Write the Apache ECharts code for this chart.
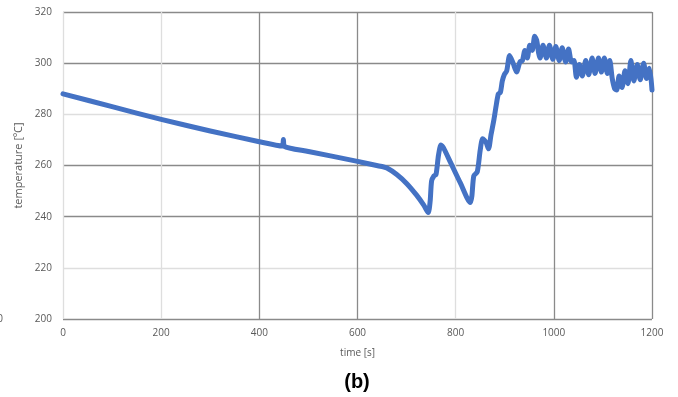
<!DOCTYPE html>
<html>
<head>
<meta charset="utf-8">
<script src="https://cdn.jsdelivr.net/npm/echarts@6/dist/echarts.min.js"></script>
<style>html,body{margin:0;padding:0;background:#fff;}#c{width:678px;height:397px;}</style>
</head>
<body>
<div id="c"></div>
<script>
const timeS = [0,100,200,300,400,447,449,451,500,600,650,660,680,700,720,735,744,748,751,756,760,765,770,775,790,810,830,833,837,844,850,855,862,867,872,878,883,887,891,895,899,904,910,917,924,931,936,941,946,951,956,961,965,969,972,978,985,991,998,1004,1011,1017,1024,1030,1036,1041,1046,1052,1058,1065,1071,1078,1084,1091,1097,1103,1109,1114,1119,1124,1128,1133,1139,1145,1151,1157,1163,1170,1176,1183,1189,1195,1200];
const tempC = [288,283,278,273.5,269.3,267.6,270.2,267.5,265.5,261.6,259.6,259,256.5,253,248.5,244.5,241.6,246,254,256,256.5,264,268,267,261,253,245.5,248,256,257.5,266,270.5,269,266.5,272,278,284,288,288.5,293,295.5,297,303,300,296.5,300.5,301,305,302,307,305,310.5,309,304,302,307,302,307,301.5,306.5,301,306,300.5,305.5,300.5,301,294.5,299.5,295,301,295.5,302,296,302,296.5,302,296,301,294,290,289.5,295,290.5,297,292,301,293,299.5,293.5,300,294,298,289.5];
const xTicks = [0,200,400,600,800,1000,1200];
const yTicks = [200,220,240,260,280,300,320];

const D = '#8a8a8a', L = '#dedede';
const chart = echarts.init(document.getElementById('c'), null, {renderer:'canvas'});
chart.setOption({
  animation:false,
  backgroundColor:'#fff',
  textStyle:{fontFamily:'Open Sans'},
  grid:{left:63,right:26,top:12,bottom:78},
  xAxis:{type:'value',min:xTicks[0],max:xTicks[xTicks.length-1],interval:200,
    name:'time [s]',nameLocation:'middle',nameGap:29,
    nameTextStyle:{color:'#595959',fontSize:10,fontFamily:'Open Sans'},
    axisLine:{show:false},axisTick:{show:false},
    axisLabel:{color:'#595959',fontSize:10,margin:9,formatter:v=>String(v)},
    splitLine:{show:true,lineStyle:{color:[L,L,D,D,L,D,D],width:1.3}}},
  yAxis:{type:'value',min:yTicks[0],max:yTicks[yTicks.length-1],interval:20,
    name:'temperature [ºC]',nameLocation:'middle',nameGap:35,
    nameTextStyle:{color:'#595959',fontSize:11,fontFamily:'Open Sans'},
    axisLine:{show:false},axisTick:{show:false},
    axisLabel:{color:'#595959',fontSize:10,margin:11},
    splitLine:{show:true,lineStyle:{color:[D,L,D,D,L,D,D],width:1.3}}},
  series:[{type:'line',data:timeS.map((t,i)=>[t,tempC[i]]),showSymbol:false,symbol:'none',
    smooth:0.25,
    lineStyle:{color:'#4472C4',width:5,join:'round',cap:'round'}}],
  graphic:[
    {type:'text',x:357,y:372,style:{text:'(b)',font:'bold 20px "Liberation Sans"',fill:'#000',align:'center'}},
    {type:'text',x:3,y:314,style:{text:'200',font:'10px "Open Sans"',fill:'#595959',align:'right'}}
  ]
});
</script>
</body>
</html>
